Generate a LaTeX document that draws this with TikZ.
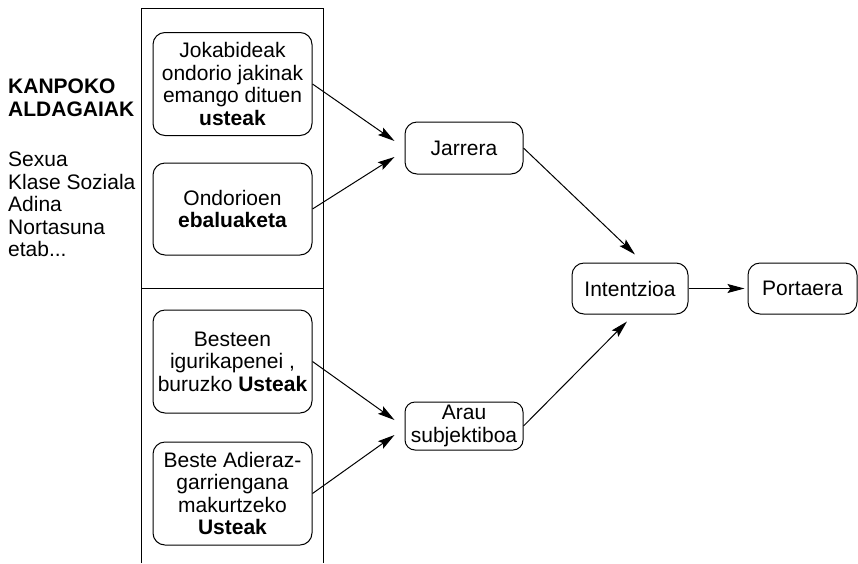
\documentclass[tikz,border=0pt]{standalone}
\usepackage{fontspec}
\setmainfont{Liberation Sans}
\usetikzlibrary{arrows.meta}
\tikzset{
  kutxa/.style={draw, rounded corners=12pt, line width=1pt, align=center, inner sep=2pt},
  gezia/.style={->, line width=1pt},
}
\begin{document}
\begin{tikzpicture}[x=1pt, y=-1pt, >={Stealth[length=17pt,width=9pt,inset=3pt]},
    every node/.style={font=\fontsize{21}{22.5}\selectfont}]
            \useasboundingbox (0,0) rectangle (858,563);
            % ezkerreko zutabea
            \draw[line width=1pt] (141,563) -- (141,8) -- (323,8) -- (323,563);
            \draw[line width=1pt] (141,288) -- (323,288);
            \node[anchor=north west, align=left, inner sep=0pt] (izenburua) at (8,79) {\textbf{KANPOKO}\\\textbf{ALDAGAIAK}};
            \node[anchor=north west, align=left, inner sep=0pt] (aldagaiak) at (8,152) {Sexua\\Klase Soziala\\Adina\\Nortasuna\\etab...};
            % sinesmenak
            \node[kutxa, minimum width=159pt, minimum height=103pt] (usteak) at (232.5,84) {Jokabideak\\ondorio jakinak\\emango dituen\\\textbf{usteak}};
            \node[kutxa, minimum width=159pt, minimum height=92pt] (ebaluaketa) at (232.5,209) {Ondorioen\\\textbf{ebaluaketa}};
            \node[kutxa, minimum width=159pt, minimum height=103pt] (besteen) at (232.5,361.5) {Besteen\\igurikapenei ,\\buruzko \textbf{Usteak}};
            \node[kutxa, minimum width=159pt, minimum height=103pt] (adieraz) at (232.5,493.5) {Beste Adieraz-\\garriengana\\makurtzeko\\\textbf{Usteak}};
            % erdiko kutxak
            \node[kutxa, minimum width=118pt, minimum height=52pt] (jarrera) at (464,148) {Jarrera};
            \node[kutxa, minimum width=118pt, minimum height=48pt, rounded corners=10pt] (arau) at (464,426) {Arau\\subjektiboa};
            \node[kutxa, minimum width=116pt, minimum height=51pt] (intentzioa) at (630,288.5) {Intentzioa};
            \node[kutxa, minimum width=109pt, minimum height=51pt] (portaera) at (802.5,288.5) {Portaera};
            % geziak
            \draw[gezia] (usteak.east) -- ([xshift=-10pt,yshift=7pt]jarrera.west);
            \draw[gezia] (ebaluaketa.east) -- ([xshift=-10pt,yshift=-9pt]jarrera.west);
            \draw[gezia] (besteen.east) -- ([xshift=-10pt,yshift=6pt]arau.west);
            \draw[gezia] (adieraz.east) -- ([xshift=-10pt,yshift=-9pt]arau.west);
            \draw[gezia] (jarrera.east) -- ([xshift=5pt,yshift=8pt]intentzioa.north);
            \draw[gezia] (arau.east) -- ([xshift=-3pt,yshift=-7pt]intentzioa.south);
            \draw[gezia, shorten >=3pt] (intentzioa) -- (portaera);
\end{tikzpicture}
\end{document}
